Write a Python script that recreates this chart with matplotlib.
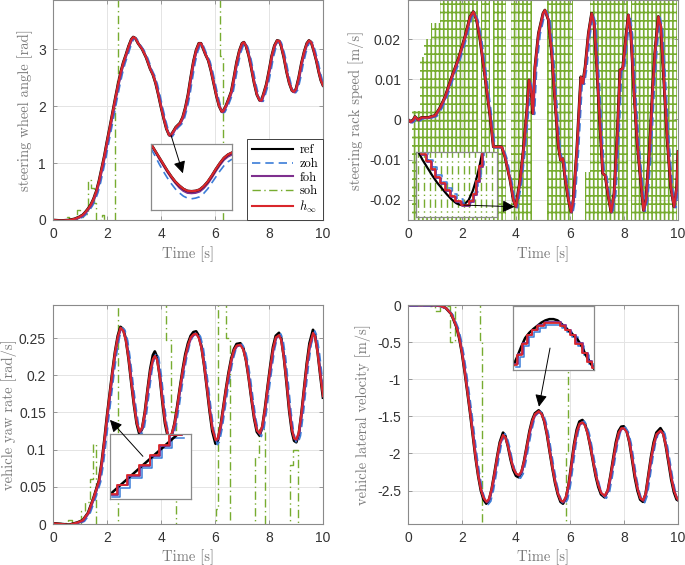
import matplotlib
matplotlib.use('Agg')
import matplotlib.pyplot as plt
import matplotlib.transforms as mtransforms
from matplotlib.lines import Line2D

plt.rcParams['font.family'] = ['Liberation Sans', 'DejaVu Sans']
plt.rcParams['mathtext.fontset'] = 'cm'
plt.rcParams['axes.unicode_minus'] = False
plt.rcParams['hatch.linewidth'] = 1.2

# ---- data -------------------------------------------------------------
# steering wheel angle [rad]
tl_t = [0, 0.3, 0.6, 0.8, 1.0, 1.1, 1.2, 1.3, 1.4, 1.5, 1.6, 1.7, 1.8, 1.9, 2.0, 2.1, 2.2, 2.3, 2.4, 2.5,
        2.6, 2.7, 2.8, 2.9, 2.97, 3.05, 3.15, 3.3, 3.45, 3.6, 3.7, 3.8, 3.9, 4.0, 4.1, 4.2, 4.3, 4.35, 4.45, 4.55,
        4.7, 4.8, 4.9, 5.0, 5.1, 5.2, 5.3, 5.4, 5.48, 5.55, 5.65, 5.75, 5.85, 5.95, 6.05, 6.15, 6.25, 6.3, 6.4, 6.5,
        6.6, 6.7, 6.8, 6.9, 7.0, 7.07, 7.15, 7.25, 7.35, 7.45, 7.55, 7.65, 7.72, 7.8, 7.9, 8.0, 8.1, 8.2, 8.3, 8.38,
        8.45, 8.55, 8.65, 8.75, 8.85, 8.92, 9.0, 9.1, 9.2, 9.3, 9.4, 9.48, 9.56, 9.65, 9.75, 9.85, 9.92, 10]
tl_ref = [0, -0.01, 0.0, 0.02, 0.06, 0.09, 0.14, 0.2, 0.27, 0.37, 0.5, 0.68, 0.9, 1.12, 1.38, 1.62, 1.87, 2.12, 2.36, 2.58,
          2.76, 2.9, 3.05, 3.17, 3.21, 3.19, 3.1, 3.0, 2.85, 2.65, 2.55, 2.4, 2.2, 1.98, 1.78, 1.6, 1.49, 1.48, 1.55, 1.63,
          1.7, 1.8, 1.97, 2.2, 2.5, 2.78, 2.98, 3.1, 3.1, 3.02, 2.9, 2.8, 2.62, 2.4, 2.18, 2.0, 1.9, 1.91, 2.0, 2.12,
          2.25, 2.5, 2.77, 2.97, 3.1, 3.12, 3.05, 2.88, 2.65, 2.4, 2.2, 2.1, 2.1, 2.22, 2.38, 2.62, 2.88, 3.06, 3.15, 3.14,
          3.05, 2.85, 2.6, 2.4, 2.27, 2.25, 2.3, 2.5, 2.75, 2.95, 3.1, 3.15, 3.12, 2.98, 2.8, 2.58, 2.45, 2.36]
tl_soh_t = [0, 0.5, 0.6, 0.9, 1.0, 1.1, 1.3, 1.42, 1.52, 1.58, 1.8, 1.9, 2.28, 2.37, 2.41, 6.2, 6.3, 10]
tl_soh = [0, 0.06, 0.02, 0.17, 0.05, 0.1, 0.7, 0.56, 0.29, 0.0, 0.09, -1.0, 2.2, 2.5, 9.0, 2.87, -9.0, -9.0]

# steering rack speed [m/s]
tr_t = [0, 0.09, 0.18, 0.26, 0.38, 0.5, 0.75, 1.0, 1.19, 1.37, 1.62, 1.86, 2.11, 2.3, 2.42, 2.54, 2.67, 2.85,
        3.04, 3.16, 3.28, 3.47, 3.59, 3.78, 3.9, 3.99, 4.15, 4.27, 4.4, 4.48, 4.56, 4.62, 4.7, 4.83, 5.0, 5.07,
        5.2, 5.32, 5.44, 5.57, 5.65, 5.73, 5.81, 5.94, 6.04, 6.12, 6.25, 6.35, 6.4, 6.47, 6.56, 6.68, 6.8, 6.89,
        6.99, 7.11, 7.21, 7.3, 7.42, 7.52, 7.63, 7.75, 7.85, 7.95, 8.07, 8.16, 8.25, 8.37, 8.49, 8.59, 8.72, 8.81,
        8.94, 9.06, 9.15, 9.27, 9.36, 9.48, 9.6, 9.73, 9.85, 9.95, 10.0]
tr_ref = [0, -0.0006, -0.0002, 0.0007, -0.0001, 0.0005, 0.0005, 0.001, 0.003, 0.0056, 0.0106, 0.015, 0.0206,
          0.0256, 0.0268, 0.0247, 0.0197, 0.0106, 0.0007, -0.0068, -0.0068, -0.0068, -0.0093, -0.0151, -0.02,
          -0.0217, -0.0151, -0.0076, 0.0023, 0.0098, 0.0073, 0.0015, 0.0131, 0.0214, 0.0264, 0.0272, 0.0247,
          0.0164, 0.0048, -0.0068, -0.0101, -0.0097, -0.0143, -0.02, -0.023, -0.02, -0.0076, 0.0048, 0.0106,
          0.009, 0.0131, 0.0214, 0.0264, 0.0239, 0.0131, -0.0018, -0.0134, -0.0139, -0.0193, -0.023, -0.0184,
          -0.0035, 0.0123, 0.0127, 0.0206, 0.026, 0.0214, 0.0065, -0.006, -0.0134, -0.0226, -0.02, -0.0076,
          0.0081, 0.0173, 0.0256, 0.0231, 0.009, -0.0051, -0.0168, -0.0217, -0.0168, -0.008]
# soh chatters far off-scale: time bands it covers and the height it reaches
tr_soh_t0 = [0.15, 0.45, 0.6, 0.85, 1.2, 2.7, 3.15, 3.8, 5.14, 6.55, 6.74, 8.25]
tr_soh_t1 = [0.45, 0.6, 0.85, 1.2, 2.58, 3.02, 3.62, 4.58, 6.12, 6.74, 8.16, 9.95]
tr_soh_top = [0.002, 0.0155, 0.02, 0.024, 0.03, 0.03, 0.03, 0.03, 0.03, -0.013, 0.03, 0.03]

# vehicle yaw rate [rad/s]
bl_t = [0, 0.3, 0.6, 0.9, 1.1, 1.3, 1.5, 1.7, 1.8, 1.9, 2.0, 2.1, 2.2, 2.3, 2.4, 2.5, 2.6, 2.7, 2.8, 2.9,
        3.0, 3.1, 3.2, 3.3, 3.4, 3.5, 3.6, 3.7, 3.77, 3.85, 3.95, 4.05, 4.15, 4.25, 4.32, 4.4,
        4.5, 4.6, 4.7, 4.8, 4.9, 5.0, 5.1, 5.2, 5.3, 5.4, 5.5, 5.6, 5.7, 5.8, 5.9,
        6.02, 6.1, 6.2, 6.3, 6.4, 6.5, 6.6, 6.7, 6.8, 6.94, 7.05, 7.15, 7.25, 7.35, 7.45, 7.55, 7.65, 7.75, 7.85, 7.95,
        8.05, 8.15, 8.25, 8.37, 8.45, 8.55, 8.65, 8.75, 8.85, 8.93, 9.01, 9.1, 9.2, 9.3, 9.4, 9.5, 9.63, 9.7, 9.8, 9.9, 10]
bl_ref = [0.001, 0.0, -0.001, 0.002, 0.005, 0.015, 0.035, 0.058, 0.082, 0.112, 0.145, 0.175, 0.205, 0.232, 0.253,
          0.265, 0.262, 0.248, 0.222, 0.19, 0.16, 0.135, 0.121, 0.128, 0.15, 0.18, 0.208, 0.227, 0.232, 0.225, 0.2,
          0.165, 0.135, 0.118, 0.116, 0.12, 0.135, 0.158, 0.183, 0.207, 0.228, 0.243, 0.253, 0.258, 0.259, 0.253,
          0.238, 0.213, 0.183, 0.152, 0.125, 0.108, 0.112, 0.13, 0.155, 0.18, 0.203, 0.222, 0.235, 0.242, 0.243,
          0.236, 0.22, 0.196, 0.168, 0.142, 0.124, 0.119, 0.13, 0.155, 0.185, 0.213, 0.238, 0.253, 0.257, 0.25,
          0.225, 0.19, 0.152, 0.124, 0.112, 0.11, 0.12, 0.148, 0.182, 0.216, 0.243, 0.261, 0.255, 0.232, 0.2, 0.17]
bl_hinf = [0.001, 0.0, -0.001, 0.002, 0.005, 0.015, 0.035, 0.058, 0.082, 0.112, 0.145, 0.175, 0.205, 0.232, 0.252,
           0.264, 0.26, 0.246, 0.222, 0.19, 0.16, 0.136, 0.124, 0.13, 0.15, 0.18, 0.206, 0.222, 0.226, 0.221, 0.199,
           0.166, 0.137, 0.12, 0.119, 0.122, 0.135, 0.158, 0.183, 0.206, 0.226, 0.241, 0.251, 0.255, 0.256, 0.25,
           0.236, 0.212, 0.183, 0.153, 0.128, 0.113, 0.115, 0.131, 0.155, 0.18, 0.202, 0.221, 0.234, 0.24, 0.241,
           0.234, 0.219, 0.195, 0.168, 0.143, 0.126, 0.122, 0.132, 0.155, 0.185, 0.212, 0.236, 0.251, 0.254, 0.247,
           0.223, 0.19, 0.153, 0.126, 0.115, 0.114, 0.123, 0.149, 0.182, 0.215, 0.24, 0.257, 0.252, 0.23, 0.2, 0.172]
bl_soh_t = [0, 0.55, 0.7, 1.05, 1.2, 1.36, 1.48, 1.6, 2.4, 4.2, 4.38, 4.55, 6.05, 6.12, 6.4, 6.54,
            7.47, 7.62, 7.84, 8.77, 8.9, 9.07, 10]
bl_soh = [0.001, 0.005, 0.001, 0.018, 0.03, 0.06, 0.108, -1, 1, 0.247, 0.15, -1, 0.02, 1, 0.25, -1,
          0.09, 0.128, -1, 0.08, 0.1, -1, -1]

# vehicle lateral velocity [m/s]
br_t = [0, 0.5, 1.0, 1.2, 1.4, 1.6, 1.8, 1.9, 2.0, 2.1, 2.2, 2.3, 2.4, 2.5, 2.6, 2.7, 2.8, 2.9, 3.0, 3.1, 3.2, 3.3,
        3.4, 3.52, 3.6, 3.7, 3.8, 3.9, 4.0, 4.1, 4.2, 4.3, 4.4, 4.5, 4.6, 4.7, 4.84, 4.95, 5.05, 5.15, 5.25, 5.35,
        5.45, 5.55, 5.65, 5.74, 5.85, 5.95, 6.05, 6.15, 6.25, 6.35, 6.46, 6.55, 6.65, 6.75, 6.85, 6.95, 7.05, 7.15,
        7.28, 7.4, 7.5, 7.6, 7.7, 7.8, 7.9, 7.99, 8.1, 8.2, 8.3, 8.4, 8.5, 8.6, 8.7, 8.8, 8.9, 9.0, 9.1, 9.2, 9.35,
        9.45, 9.55, 9.65, 9.75, 9.85, 9.95, 10]
br_ref = [0, 0, 0, -0.01, -0.04, -0.12, -0.3, -0.45, -0.65, -0.9, -1.17, -1.45, -1.75, -2.05, -2.3, -2.5, -2.62,
          -2.675, -2.63, -2.48, -2.27, -2.05, -1.85, -1.72, -1.76, -1.9, -2.08, -2.22, -2.3, -2.32, -2.26, -2.1, -1.9,
          -1.7, -1.55, -1.46, -1.42, -1.46, -1.57, -1.75, -1.98, -2.2, -2.4, -2.55, -2.65, -2.675, -2.6, -2.42, -2.15,
          -1.88, -1.68, -1.57, -1.55, -1.6, -1.72, -1.9, -2.1, -2.3, -2.45, -2.55, -2.59, -2.5, -2.3, -2.07, -1.85,
          -1.7, -1.64, -1.635, -1.7, -1.85, -2.08, -2.32, -2.5, -2.62, -2.65, -2.55, -2.3, -2.05, -1.85, -1.72, -1.66,
          -1.72, -1.9, -2.12, -2.35, -2.52, -2.62, -2.63]
br_hinf = [0, 0, 0, -0.01, -0.04, -0.12, -0.3, -0.45, -0.65, -0.9, -1.17, -1.45, -1.75, -2.05, -2.3, -2.49, -2.6,
           -2.65, -2.61, -2.47, -2.27, -2.05, -1.86, -1.75, -1.78, -1.9, -2.07, -2.2, -2.27, -2.29, -2.24, -2.1, -1.9,
           -1.71, -1.56, -1.47, -1.43, -1.47, -1.57, -1.75, -1.98, -2.2, -2.39, -2.54, -2.63, -2.65, -2.58, -2.41,
           -2.15, -1.89, -1.7, -1.6, -1.58, -1.62, -1.73, -1.9, -2.1, -2.29, -2.43, -2.53, -2.57, -2.49, -2.3, -2.08,
           -1.87, -1.72, -1.66, -1.66, -1.71, -1.85, -2.07, -2.3, -2.48, -2.6, -2.63, -2.54, -2.3, -2.06, -1.87,
           -1.74, -1.69, -1.74, -1.9, -2.11, -2.33, -2.5, -2.6, -2.62]
br_soh_t = [0, 0.8, 1.0, 1.17, 1.54, 1.73, 1.8, 2.65, 2.75, 5.84, 5.93, 10]
br_soh = [0, -0.02, -0.08, -0.02, -0.5, -0.03, 9, -0.47, -9, -1.96, 9, 9]

# zoomed insets (normalised inset coordinates)
tl_in_x = [0, 0.05, 0.1, 0.15, 0.2, 0.25, 0.3, 0.35, 0.4, 0.45, 0.5, 0.55, 0.6, 0.65, 0.7, 0.75, 0.8, 0.85, 0.9, 0.95, 1.0]
tl_in_ref = [1.0, 0.9, 0.8, 0.7, 0.6, 0.51, 0.43, 0.37, 0.32, 0.29, 0.285, 0.29, 0.31, 0.36, 0.43, 0.52, 0.62, 0.71, 0.79, 0.84, 0.87]
tl_in_foh = [0.99, 0.89, 0.78, 0.68, 0.58, 0.49, 0.41, 0.34, 0.29, 0.26, 0.255, 0.26, 0.28, 0.33, 0.4, 0.49, 0.59, 0.68, 0.76, 0.81, 0.84]
tl_in_zoh = [0.93, 0.82, 0.7, 0.59, 0.49, 0.4, 0.32, 0.26, 0.21, 0.18, 0.17, 0.18, 0.2, 0.25, 0.32, 0.41, 0.5, 0.59, 0.67, 0.73, 0.77]

tr_in_x = [0.03, 0.08, 0.14, 0.2, 0.26, 0.32, 0.38, 0.44, 0.5, 0.55, 0.6, 0.65, 0.7, 0.74, 0.78, 0.82]
tr_in_ref = [1.0, 0.88, 0.76, 0.64, 0.53, 0.44, 0.35, 0.27, 0.21, 0.185, 0.2, 0.26, 0.4, 0.56, 0.76, 1.0]
tr_in_sx = [0.06, 0.12, 0.18, 0.24, 0.3, 0.36, 0.42, 0.48, 0.55, 0.61, 0.66, 0.7, 0.74, 0.78, 0.82]
tr_in_s = [0.97, 0.86, 0.74, 0.62, 0.52, 0.42, 0.33, 0.25, 0.19, 0.19, 0.24, 0.36, 0.55, 0.78, 1.05]
tr_in_soh = [0.03, 0.1, 0.17, 0.24, 0.31, 0.38, 0.45, 0.52, 0.59, 0.66, 0.73, 0.8, 0.87, 0.94]

bl_in_x = [-0.01, 0.83]
bl_in_ref = [0.06, 0.99]
bl_in_sx = [-0.01, 0.09, 0.21, 0.36, 0.49, 0.61, 0.73, 0.88]
bl_in_s = [0.08, 0.22, 0.37, 0.52, 0.67, 0.83, 0.99, 0.99]

br_in_x = [0, 0.05, 0.1, 0.15, 0.2, 0.25, 0.3, 0.35, 0.4, 0.45, 0.5, 0.55, 0.6, 0.65, 0.7, 0.75, 0.8, 0.85, 0.9, 0.95, 1.0]
br_in_ref = [0.06, 0.2, 0.36, 0.5, 0.58, 0.64, 0.69, 0.74, 0.775, 0.795, 0.795, 0.775, 0.72, 0.66, 0.6, 0.54, 0.47, 0.37, 0.23, 0.12, 0.02]
br_in_sx = [0.01, 0.05, 0.11, 0.17, 0.23, 0.3, 0.38, 0.48, 0.58, 0.64, 0.7, 0.77, 0.85, 0.91, 0.97, 1.0]
br_in_s = [0.08, 0.23, 0.41, 0.54, 0.62, 0.69, 0.73, 0.74, 0.69, 0.62, 0.54, 0.41, 0.26, 0.13, 0.03, 0.03]

x_ticks = [0, 2, 4, 6, 8, 10]
tl_yticks = [0, 1, 2, 3]
tr_yticks = [-0.02, -0.01, 0, 0.01, 0.02]
tr_ylabels = ['-0.02', '-0.01', '0', '0.01', '0.02']
bl_yticks = [0, 0.05, 0.1, 0.15, 0.2, 0.25]
bl_ylabels = ['0', '0.05', '0.1', '0.15', '0.2', '0.25']
br_yticks = [-2.5, -2, -1.5, -1, -0.5, 0]
br_ylabels = ['-2.5', '-2', '-1.5', '-1', '-0.5', '0']

# ---- style ------------------------------------------------------------
C_REF = 'black'
C_ZOH = '#3b7dd8'
C_FOH = '#7e2f8e'
C_SOH = '#77ac30'
C_HINF = '#d9262b'
SPINE = '#8a8a8a'
SERIF = 'cmr10'
DASH = (0, (5, 3))
DASHDOT = (0, (6, 2.5, 1, 2.5))

W, H = 685, 565
fig = plt.figure(figsize=(W / 100, H / 100), dpi=100)


def px_box(x0, y0, x1, y1):
    return [x0 / W, 1 - y1 / H, (x1 - x0) / W, (y1 - y0) / H]


def shifted(ax, dx, dy):
    return mtransforms.offset_copy(ax.transData, fig=fig, x=dx, y=dy, units='dots')


def main_axes(box, ylim, yticks, ylabels, ylabel, lab_x):
    ax = fig.add_axes(px_box(*box))
    ax.set_xlim(0, 10)
    ax.set_ylim(*ylim)
    ax.set_xticks(x_ticks)
    ax.set_xticklabels([str(v) for v in x_ticks])
    ax.set_yticks(yticks)
    ax.set_yticklabels(ylabels)
    ax.grid(True, color='#e4e4e4', lw=0.7)
    ax.set_axisbelow(True)
    ax.tick_params(direction='in', length=3, width=0.6, color=SPINE, labelcolor='#333333',
                   labelsize=10, top=True, right=True, pad=5)
    for s in ax.spines.values():
        s.set_color(SPINE)
        s.set_linewidth(0.8)
    ax.set_xlabel('Time [s]', family=SERIF, fontsize=10.5, color='#7a7a7a')
    ax.set_ylabel(ylabel, family=SERIF, fontsize=10.5, color='#7a7a7a')
    ax.xaxis.set_label_coords(0.5, -0.118)
    ax.yaxis.set_label_coords(lab_x, 0.5)
    return ax


def draw_series(ax, t, ref, hinf):
    ax.plot(t, ref, color=C_REF, lw=2.0)
    ax.plot(t, ref, color=C_ZOH, lw=1.2, ls=DASH, transform=shifted(ax, 1.8, -1.0))
    ax.plot(t, hinf, color=C_FOH, lw=1.5, transform=shifted(ax, 0.6, -0.6))
    ax.plot(t, hinf, color=C_HINF, lw=1.5)


def inset(box):
    ax = fig.add_axes(px_box(*box))
    ax.set_xlim(0, 1)
    ax.set_ylim(0, 1)
    ax.set_xticks([])
    ax.set_yticks([])
    ax.set_facecolor('white')
    ax.set_zorder(5)
    for s in ax.spines.values():
        s.set_color(SPINE)
        s.set_linewidth(0.9)
    return ax


def arrow(ax_in, ax_main, tail, tip):
    ax_in.annotate('', xy=tip, xycoords=ax_main.transData, xytext=tail, textcoords=ax_main.transData,
                   arrowprops=dict(arrowstyle='-|>', color='k', lw=0.7, mutation_scale=18,
                                   shrinkA=0, shrinkB=0),
                   annotation_clip=False)


# ---- top left -----------------------------------------------------------
ax1 = main_axes((53, 0, 323, 220), (0, 3.86), tl_yticks, [str(v) for v in tl_yticks],
                'steering wheel angle [rad]', -0.074)
ax1.plot(tl_soh_t, tl_soh, color=C_SOH, lw=1.0, ls=DASHDOT, drawstyle='steps-post')
draw_series(ax1, tl_t, tl_ref, tl_ref)

handles = [Line2D([], [], color=C_REF, lw=1.5),
           Line2D([], [], color=C_ZOH, lw=1.2, ls=DASH),
           Line2D([], [], color=C_FOH, lw=1.5),
           Line2D([], [], color=C_SOH, lw=1.0, ls=DASHDOT),
           Line2D([], [], color=C_HINF, lw=1.5)]
leg = ax1.legend(handles, ['ref', 'zoh', 'foh', 'soh', r'$h_\infty$'], loc='lower right',
                 bbox_to_anchor=(1, 0), borderaxespad=0, fancybox=False, framealpha=1,
                 prop={'family': SERIF, 'size': 9}, handlelength=3.3, labelspacing=0.12,
                 handletextpad=0.5, borderpad=0.4)
leg.get_frame().set_edgecolor('#404040')
leg.get_frame().set_linewidth(0.7)
leg.set_zorder(6)

in1 = inset((151, 144, 232, 210))
in1.plot(tl_in_x, tl_in_zoh, color=C_ZOH, lw=1.2, ls=DASH)
in1.plot(tl_in_x, tl_in_foh, color=C_FOH, lw=1.6)
in1.plot(tl_in_x, tl_in_ref, color=C_REF, lw=1.8)
in1.plot(tl_in_x, tl_in_ref, color=C_HINF, lw=1.6)
arrow(in1, ax1, (4.37, 1.49), (4.81, 0.82))

# ---- top right ----------------------------------------------------------
ax2 = main_axes((408, 0, 678, 220), (-0.025, 0.0297), tr_yticks, tr_ylabels,
                'steering rack speed [m/s]', -0.163)
for a, b, top in zip(tr_soh_t0, tr_soh_t1, tr_soh_top):
    ax2.fill_between([a, b], -0.025, top, facecolor='none', edgecolor=C_SOH,
                     hatch='||||--', linewidth=0)
draw_series(ax2, tr_t, tr_ref, tr_ref)

in2 = inset((416, 152, 497, 217))
in2.vlines(tr_in_soh, -0.1, 1.1, colors=C_SOH, lw=1.0, linestyles=DASHDOT)
in2.plot(tr_in_x, tr_in_ref, color=C_REF, lw=1.6)
in2.plot(tr_in_sx, tr_in_s, color=C_ZOH, lw=1.1, ls=DASH, drawstyle='steps-post',
         transform=shifted(in2, 2.0, 1.5))
in2.plot(tr_in_sx, tr_in_s, color=C_FOH, lw=1.3, drawstyle='steps-post', transform=shifted(in2, 1.0, -1.0))
in2.plot(tr_in_sx, tr_in_s, color=C_HINF, lw=1.3, drawstyle='steps-post')
arrow(in2, ax2, (2.07, -0.0213), (3.95, -0.0217))

# ---- bottom left --------------------------------------------------------
ax3 = main_axes((53, 305, 323, 524), (0, 0.2945), bl_yticks, bl_ylabels,
                'vehicle yaw rate [rad/s]', -0.132)
ax3.plot(bl_soh_t, bl_soh, color=C_SOH, lw=1.0, ls=DASHDOT, drawstyle='steps-post')
draw_series(ax3, bl_t, bl_ref, bl_hinf)

in3 = inset((110, 434, 191, 499))
in3.plot(bl_in_sx, bl_in_s, color=C_ZOH, lw=1.1, drawstyle='steps-post', transform=shifted(in3, 2.8, -3.0))
in3.plot(bl_in_x, bl_in_ref, color=C_REF, lw=1.8)
in3.plot(bl_in_sx, bl_in_s, color=C_FOH, lw=1.3, drawstyle='steps-post', transform=shifted(in3, 0.8, -0.8))
in3.plot(bl_in_sx, bl_in_s, color=C_HINF, lw=1.3, drawstyle='steps-post')
arrow(in3, ax3, (3.33, 0.091), (2.11, 0.14))

# ---- bottom right -------------------------------------------------------
ax4 = main_axes((408, 305, 678, 524), (-2.95, 0), br_yticks, br_ylabels,
                'vehicle lateral velocity [m/s]', -0.137)
ax4.plot(br_soh_t, br_soh, color=C_SOH, lw=1.0, ls=DASHDOT, drawstyle='steps-post')
draw_series(ax4, br_t, br_ref, br_hinf)

in4 = inset((513, 306, 594, 370))
in4.plot(br_in_sx, br_in_s, color=C_ZOH, lw=1.1, drawstyle='steps-post', transform=shifted(in4, 2.5, -2.0))
in4.plot(br_in_x, br_in_ref, color=C_REF, lw=1.8)
in4.plot(br_in_sx, br_in_s, color=C_FOH, lw=1.3, drawstyle='steps-post', transform=shifted(in4, 0.8, 0.8))
in4.plot(br_in_sx, br_in_s, color=C_HINF, lw=1.3, drawstyle='steps-post')
arrow(in4, ax4, (5.26, -0.58), (4.85, -1.37))

fig.savefig('out.png', dpi=100)
